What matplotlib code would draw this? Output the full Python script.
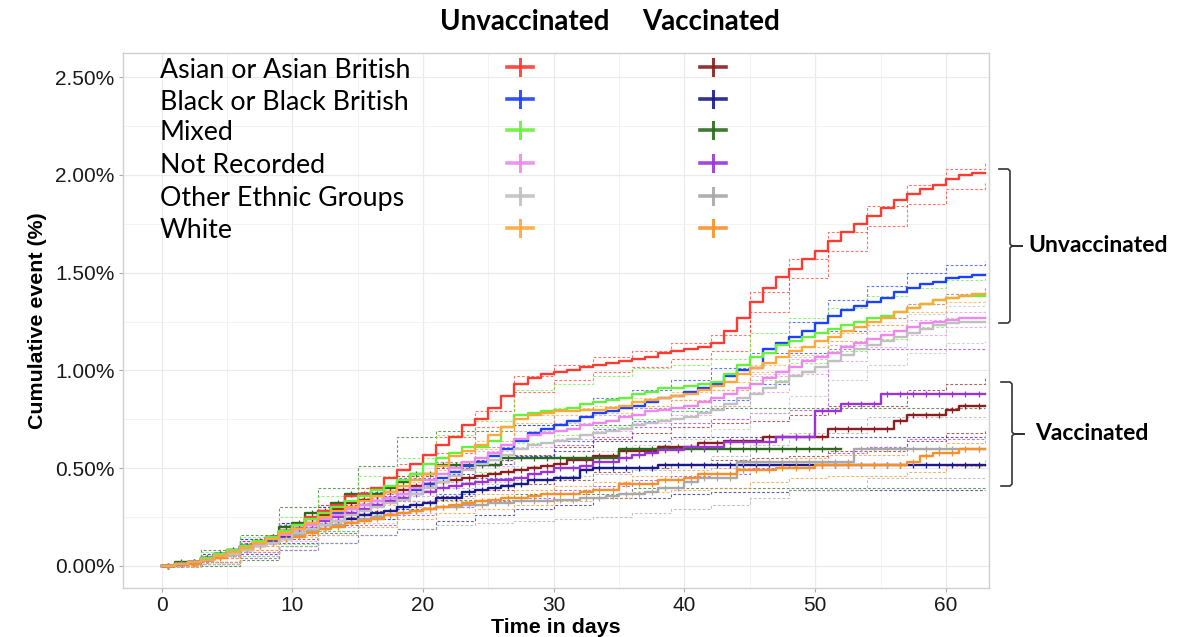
import numpy as np
import matplotlib.pyplot as plt
from matplotlib.lines import Line2D

plt.rcParams['font.family'] = ['Liberation Sans', 'DejaVu Sans']

groups = ['Asian or Asian British', 'Black or Black British', 'Mixed',
          'Not Recorded', 'Other Ethnic Groups', 'White']
unvacc_colors = ['#FF3A30', '#1E40FF', '#66F23A', '#EE88EE', '#C0C0C0', '#FFA83A']
vacc_colors = ['#8B1E1E', '#1A1A8C', '#2A6A1E', '#9A34D8', '#A8A8A8', '#F8902A']

days = list(range(64))
ci_days = list(range(0, 64, 3))

# cumulative event (%), daily, unvaccinated
u_asian = [0, 0.01, 0.02, 0.03, 0.05, 0.07, 0.10, 0.12, 0.15, 0.18, 0.21, 0.25, 0.28, 0.31, 0.36, 0.37,
           0.40, 0.45, 0.49, 0.52, 0.57, 0.62, 0.66, 0.72, 0.75, 0.81, 0.87, 0.93, 0.96, 0.98, 0.99, 1.00,
           1.02, 1.03, 1.04, 1.05, 1.06, 1.07, 1.09, 1.10, 1.11, 1.12, 1.14, 1.20, 1.27, 1.35, 1.42, 1.48,
           1.52, 1.57, 1.61, 1.66, 1.71, 1.75, 1.79, 1.83, 1.87, 1.90, 1.93, 1.95, 1.98, 2.00, 2.01, 2.01]
u_black = [0, 0.01, 0.02, 0.04, 0.06, 0.08, 0.10, 0.12, 0.14, 0.17, 0.19, 0.22, 0.24, 0.27, 0.29, 0.31,
           0.33, 0.35, 0.37, 0.39, 0.42, 0.45, 0.48, 0.51, 0.53, 0.56, 0.60, 0.64, 0.68, 0.70, 0.72, 0.74,
           0.76, 0.78, 0.79, 0.81, 0.82, 0.84, 0.86, 0.87, 0.89, 0.91, 0.93, 0.97, 1.00, 1.01, 1.11, 1.14,
           1.17, 1.20, 1.24, 1.28, 1.31, 1.33, 1.35, 1.37, 1.40, 1.42, 1.44, 1.45, 1.47, 1.48, 1.49, 1.49]
u_mixed = [0, 0.01, 0.02, 0.04, 0.06, 0.08, 0.10, 0.13, 0.15, 0.18, 0.21, 0.24, 0.27, 0.30, 0.33, 0.36,
           0.39, 0.41, 0.44, 0.47, 0.52, 0.55, 0.58, 0.61, 0.61, 0.64, 0.71, 0.77, 0.78, 0.79, 0.80, 0.81,
           0.83, 0.84, 0.85, 0.86, 0.88, 0.89, 0.91, 0.91, 0.92, 0.93, 0.94, 0.98, 1.03, 1.07, 1.09, 1.13,
           1.15, 1.17, 1.19, 1.21, 1.23, 1.25, 1.27, 1.28, 1.30, 1.32, 1.34, 1.36, 1.37, 1.38, 1.38, 1.38]
u_notrec = [0, 0.01, 0.02, 0.03, 0.05, 0.07, 0.09, 0.11, 0.14, 0.16, 0.19, 0.21, 0.24, 0.26, 0.29, 0.31,
            0.33, 0.35, 0.37, 0.40, 0.44, 0.47, 0.50, 0.53, 0.55, 0.58, 0.62, 0.65, 0.67, 0.68, 0.69, 0.70,
            0.72, 0.73, 0.74, 0.76, 0.77, 0.79, 0.80, 0.81, 0.82, 0.84, 0.86, 0.88, 0.91, 0.93, 0.96, 0.99,
            1.02, 1.05, 1.07, 1.09, 1.12, 1.14, 1.16, 1.18, 1.20, 1.22, 1.24, 1.25, 1.26, 1.27, 1.27, 1.27]
u_other = [0, 0.01, 0.02, 0.03, 0.05, 0.06, 0.08, 0.10, 0.12, 0.14, 0.17, 0.19, 0.21, 0.23, 0.26, 0.28,
           0.30, 0.32, 0.34, 0.37, 0.40, 0.43, 0.46, 0.49, 0.52, 0.54, 0.57, 0.60, 0.62, 0.63, 0.64, 0.65,
           0.67, 0.68, 0.69, 0.70, 0.72, 0.73, 0.74, 0.75, 0.76, 0.78, 0.80, 0.83, 0.86, 0.88, 0.91, 0.94,
           0.97, 0.99, 1.02, 1.05, 1.08, 1.11, 1.13, 1.15, 1.17, 1.19, 1.21, 1.23, 1.24, 1.25, 1.25, 1.25]
u_white = [0, 0.01, 0.02, 0.03, 0.05, 0.07, 0.09, 0.12, 0.14, 0.17, 0.19, 0.22, 0.25, 0.28, 0.30, 0.33,
           0.36, 0.38, 0.41, 0.44, 0.47, 0.51, 0.56, 0.59, 0.62, 0.67, 0.71, 0.75, 0.77, 0.78, 0.79, 0.79,
           0.80, 0.80, 0.81, 0.82, 0.84, 0.85, 0.86, 0.87, 0.88, 0.90, 0.92, 0.94, 0.98, 1.01, 1.04, 1.07,
           1.10, 1.12, 1.15, 1.17, 1.20, 1.22, 1.25, 1.27, 1.30, 1.32, 1.34, 1.36, 1.37, 1.38, 1.39, 1.39]

# vaccinated
v_asian = [0, 0.01, 0.02, 0.04, 0.06, 0.08, 0.10, 0.13, 0.15, 0.18, 0.21, 0.24, 0.26, 0.29, 0.32, 0.34,
           0.36, 0.38, 0.39, 0.41, 0.42, 0.43, 0.44, 0.45, 0.46, 0.47, 0.48, 0.49, 0.50, 0.51, 0.52, 0.54,
           0.54, 0.56, 0.56, 0.59, 0.59, 0.59, 0.61, 0.61, 0.61, 0.63, 0.63, 0.64, 0.64, 0.64, 0.66, 0.66,
           0.66, 0.66, 0.66, 0.70, 0.70, 0.70, 0.70, 0.70, 0.74, 0.77, 0.77, 0.77, 0.80, 0.82, 0.82, 0.82]
v_black = [0, 0.01, 0.02, 0.03, 0.05, 0.07, 0.09, 0.11, 0.13, 0.15, 0.17, 0.19, 0.21, 0.23, 0.24, 0.26,
           0.27, 0.28, 0.30, 0.31, 0.32, 0.35, 0.35, 0.38, 0.39, 0.40, 0.41, 0.42, 0.44, 0.44, 0.45, 0.45,
           0.49, 0.50, 0.50, 0.50, 0.50, 0.50, 0.515, 0.515, 0.515, 0.515, 0.515, 0.515, 0.515, 0.515, 0.515, 0.515,
           0.515, 0.515, 0.515, 0.515, 0.515, 0.515, 0.515, 0.515, 0.515, 0.515, 0.515, 0.515, 0.515, 0.515, 0.515, 0.515]
# mixed vaccinated follow-up ends around day 52
v_mixed = [0, 0.02, 0.02, 0.04, 0.06, 0.06, 0.10, 0.12, 0.15, 0.20, 0.22, 0.27, 0.28, 0.32, 0.37, 0.37,
           0.37, 0.40, 0.43, 0.47, 0.47, 0.515, 0.515, 0.515, 0.515, 0.515, 0.55, 0.55, 0.55, 0.55, 0.55, 0.55,
           0.55, 0.55, 0.55, 0.60, 0.60, 0.60, 0.60, 0.60, 0.60, 0.60, 0.60, 0.60, 0.60, 0.60, 0.60, 0.60,
           0.60, 0.60, 0.60, 0.60, 0.60]
v_notrec = [0, 0.01, 0.02, 0.03, 0.05, 0.07, 0.09, 0.12, 0.14, 0.16, 0.19, 0.21, 0.23, 0.25, 0.27, 0.29,
            0.31, 0.33, 0.35, 0.37, 0.38, 0.40, 0.41, 0.42, 0.43, 0.44, 0.44, 0.45, 0.47, 0.48, 0.50, 0.50,
            0.51, 0.53, 0.53, 0.55, 0.57, 0.58, 0.595, 0.595, 0.61, 0.61, 0.61, 0.635, 0.635, 0.635, 0.635, 0.66,
            0.66, 0.66, 0.79, 0.79, 0.83, 0.83, 0.83, 0.88, 0.88, 0.88, 0.88, 0.88, 0.88, 0.88, 0.88, 0.88]
v_other = [0, 0.01, 0.02, 0.03, 0.05, 0.06, 0.08, 0.10, 0.12, 0.14, 0.16, 0.18, 0.19, 0.21, 0.22, 0.24,
           0.25, 0.26, 0.27, 0.28, 0.29, 0.30, 0.30, 0.31, 0.31, 0.32, 0.32, 0.33, 0.33, 0.33, 0.34, 0.34,
           0.35, 0.35, 0.36, 0.37, 0.37, 0.38, 0.40, 0.40, 0.43, 0.45, 0.45, 0.45, 0.53, 0.53, 0.53, 0.53,
           0.53, 0.53, 0.53, 0.53, 0.53, 0.60, 0.60, 0.60, 0.60, 0.60, 0.60, 0.60, 0.60, 0.60, 0.60, 0.60]
v_white = [0, 0.01, 0.01, 0.03, 0.04, 0.06, 0.08, 0.10, 0.12, 0.14, 0.15, 0.17, 0.19, 0.20, 0.22, 0.23,
           0.24, 0.26, 0.27, 0.28, 0.29, 0.30, 0.31, 0.32, 0.33, 0.34, 0.35, 0.35, 0.36, 0.37, 0.37, 0.37,
           0.38, 0.39, 0.39, 0.42, 0.42, 0.42, 0.44, 0.44, 0.45, 0.47, 0.47, 0.47, 0.49, 0.49, 0.49, 0.50,
           0.50, 0.50, 0.515, 0.515, 0.515, 0.515, 0.515, 0.515, 0.515, 0.53, 0.56, 0.58, 0.58, 0.60, 0.60, 0.60]

# 95% confidence bands, every 3 days
u_asian_lo = [0, 0.02, 0.08, 0.16, 0.25, 0.34, 0.46, 0.58, 0.71, 0.89, 0.95, 0.99, 1.02, 1.06, 1.10, 1.30, 1.47, 1.61, 1.74, 1.85, 1.93, 1.96]
u_asian_hi = [0, 0.04, 0.12, 0.20, 0.31, 0.40, 0.52, 0.66, 0.79, 0.97, 1.03, 1.07, 1.10, 1.14, 1.18, 1.40, 1.57, 1.71, 1.84, 1.95, 2.03, 2.06]
u_black_lo = [0, 0.02, 0.06, 0.12, 0.18, 0.24, 0.29, 0.37, 0.45, 0.56, 0.64, 0.70, 0.74, 0.79, 0.85, 0.93, 1.09, 1.20, 1.27, 1.34, 1.39, 1.42]
u_black_hi = [0, 0.06, 0.14, 0.22, 0.30, 0.38, 0.45, 0.53, 0.61, 0.72, 0.80, 0.86, 0.90, 0.95, 1.01, 1.09, 1.25, 1.36, 1.43, 1.50, 1.54, 1.56]
u_mixed_lo = [0, 0.01, 0.05, 0.11, 0.18, 0.26, 0.33, 0.43, 0.48, 0.63, 0.67, 0.71, 0.75, 0.79, 0.82, 0.95, 1.04, 1.10, 1.16, 1.22, 1.27, 1.29]
u_mixed_hi = [0, 0.07, 0.15, 0.25, 0.36, 0.46, 0.55, 0.67, 0.74, 0.90, 0.93, 0.97, 1.01, 1.03, 1.06, 1.19, 1.27, 1.32, 1.38, 1.42, 1.46, 1.47]
u_notrec_lo = [0, 0.02, 0.07, 0.13, 0.20, 0.27, 0.33, 0.43, 0.51, 0.61, 0.65, 0.69, 0.73, 0.77, 0.82, 0.89, 0.98, 1.05, 1.12, 1.18, 1.22, 1.23]
u_notrec_hi = [0, 0.04, 0.11, 0.19, 0.28, 0.35, 0.41, 0.51, 0.59, 0.69, 0.73, 0.77, 0.81, 0.85, 0.90, 0.97, 1.06, 1.13, 1.20, 1.26, 1.30, 1.31]
u_other_lo = [0, 0.01, 0.05, 0.10, 0.16, 0.22, 0.27, 0.35, 0.43, 0.51, 0.55, 0.59, 0.62, 0.65, 0.70, 0.78, 0.87, 0.95, 1.03, 1.09, 1.14, 1.15]
u_other_hi = [0, 0.05, 0.11, 0.18, 0.26, 0.34, 0.41, 0.51, 0.61, 0.69, 0.73, 0.77, 0.82, 0.85, 0.90, 0.98, 1.07, 1.15, 1.23, 1.29, 1.33, 1.34]
u_white_lo = [0, 0.02, 0.08, 0.15, 0.23, 0.31, 0.39, 0.49, 0.60, 0.73, 0.77, 0.78, 0.82, 0.85, 0.90, 0.99, 1.08, 1.15, 1.23, 1.30, 1.35, 1.36]
u_white_hi = [0, 0.04, 0.10, 0.19, 0.27, 0.35, 0.43, 0.53, 0.64, 0.77, 0.81, 0.82, 0.86, 0.89, 0.94, 1.03, 1.12, 1.19, 1.27, 1.34, 1.39, 1.42]

v_asian_lo = [0, 0.02, 0.07, 0.14, 0.21, 0.28, 0.33, 0.36, 0.39, 0.42, 0.44, 0.48, 0.50, 0.52, 0.54, 0.55, 0.56, 0.59, 0.59, 0.64, 0.68, 0.69]
v_asian_hi = [0, 0.06, 0.13, 0.22, 0.31, 0.40, 0.46, 0.50, 0.54, 0.57, 0.61, 0.65, 0.68, 0.71, 0.73, 0.74, 0.77, 0.82, 0.82, 0.90, 0.93, 0.96]
v_black_lo = [0, 0.01, 0.04, 0.08, 0.12, 0.16, 0.19, 0.23, 0.26, 0.29, 0.31, 0.35, 0.35, 0.37, 0.38, 0.38, 0.39, 0.39, 0.39, 0.39, 0.39, 0.39]
v_black_hi = [0, 0.05, 0.14, 0.22, 0.30, 0.36, 0.41, 0.47, 0.52, 0.55, 0.59, 0.64, 0.64, 0.66, 0.66, 0.66, 0.66, 0.66, 0.66, 0.66, 0.66, 0.66]
v_mixed_lo = [0, 0.00, 0.03, 0.10, 0.17, 0.24, 0.29, 0.34, 0.34, 0.37, 0.37, 0.37, 0.40, 0.40, 0.40, 0.40, 0.40, 0.40, 0.40, 0.40, 0.40, 0.40]
v_mixed_hi = [0, 0.08, 0.16, 0.30, 0.40, 0.51, 0.66, 0.69, 0.69, 0.72, 0.72, 0.72, 0.81, 0.81, 0.81, 0.81, 0.81, 0.81, 0.81, 0.81, 0.81, 0.81]
v_notrec_lo = [0, 0.01, 0.05, 0.10, 0.16, 0.21, 0.26, 0.30, 0.33, 0.35, 0.39, 0.41, 0.44, 0.46, 0.47, 0.50, 0.52, 0.58, 0.61, 0.65, 0.65, 0.65]
v_notrec_hi = [0, 0.05, 0.13, 0.21, 0.30, 0.37, 0.44, 0.50, 0.54, 0.56, 0.62, 0.66, 0.71, 0.73, 0.75, 0.78, 0.80, 1.11, 1.11, 1.11, 1.11, 1.11]
v_other_lo = [0, 0.01, 0.04, 0.08, 0.12, 0.16, 0.19, 0.21, 0.22, 0.23, 0.24, 0.25, 0.27, 0.29, 0.31, 0.35, 0.39, 0.39, 0.45, 0.45, 0.45, 0.45]
v_other_hi = [0, 0.05, 0.12, 0.20, 0.26, 0.32, 0.36, 0.40, 0.42, 0.44, 0.46, 0.47, 0.49, 0.52, 0.56, 0.62, 0.68, 0.68, 0.76, 0.76, 0.76, 0.76]
v_white_lo = [0, 0.02, 0.06, 0.12, 0.16, 0.20, 0.24, 0.27, 0.29, 0.31, 0.33, 0.35, 0.38, 0.39, 0.40, 0.43, 0.45, 0.46, 0.46, 0.48, 0.51, 0.54]
v_white_hi = [0, 0.04, 0.10, 0.16, 0.22, 0.26, 0.30, 0.33, 0.37, 0.39, 0.41, 0.43, 0.46, 0.49, 0.50, 0.53, 0.55, 0.57, 0.57, 0.60, 0.63, 0.67]

unvacc = [u_asian, u_black, u_mixed, u_notrec, u_other, u_white]
vacc = [v_asian, v_black, v_mixed, v_notrec, v_other, v_white]
unvacc_ci = [(u_asian_lo, u_asian_hi), (u_black_lo, u_black_hi), (u_mixed_lo, u_mixed_hi),
             (u_notrec_lo, u_notrec_hi), (u_other_lo, u_other_hi), (u_white_lo, u_white_hi)]
vacc_ci = [(v_asian_lo, v_asian_hi), (v_black_lo, v_black_hi), (v_mixed_lo, v_mixed_hi),
           (v_notrec_lo, v_notrec_hi), (v_other_lo, v_other_hi), (v_white_lo, v_white_hi)]

W, H = 1178, 637
fig = plt.figure(figsize=(W / 100, H / 100), dpi=100)
ax = fig.add_axes([123 / W, 1 - 588 / H, (989 - 123) / W, (588 - 53) / H])

dash = (0, (2.5, 1.8))
# confidence bands
for ci, col in zip(vacc_ci + unvacc_ci, vacc_colors + unvacc_colors):
    for band in ci:
        ax.step(ci_days, band, where='post', color=col, lw=0.8, ls=dash, alpha=0.7)

# estimates
for vals, col in zip(vacc, vacc_colors):
    d = days[:len(vals)]
    ax.step(d, vals, where='post', color=col, lw=1.7)
    ax.plot(np.array(d[1:]) - 0.5, vals[:-1], ls='none', marker='|', ms=5, mew=0.9, color=col)
for vals, col in zip(unvacc, unvacc_colors):
    ax.step(days, vals, where='post', color=col, lw=1.7)

ax.set_xlim(-2.95, 63.3)
ax.set_ylim(-0.1125, 2.623)
ax.set_xticks(range(0, 61, 10))
ax.set_xticks(range(5, 61, 10), minor=True)
ax.set_yticks([0, 0.5, 1.0, 1.5, 2.0, 2.5])
ax.set_yticks([0.25, 0.75, 1.25, 1.75, 2.25], minor=True)
ax.set_yticklabels(['0.00%', '0.50%', '1.00%', '1.50%', '2.00%', '2.50%'])
ax.grid(True, which='major', color='#EBEBEB', lw=0.9)
ax.grid(True, which='minor', color='#F3F3F3', lw=0.7)
ax.set_axisbelow(True)
ax.tick_params(which='major', length=3, color='#AAAAAA', labelsize=15, labelcolor='#1A1A1A', pad=3)
ax.tick_params(which='minor', length=0)
for s in ax.spines.values():
    s.set_color('#D0D0D0')
    s.set_linewidth(1)

ax.set_xlabel('Time in days', fontsize=15.4, fontweight='bold', labelpad=2)
ax.set_ylabel('Cumulative event (%)', fontsize=15.4, fontweight='bold', labelpad=6)

# legend block
lab_font = ['Lato', 'DejaVu Sans']
fig.text(525 / W, 1 - 22 / H, 'Unvaccinated', family=lab_font, fontweight='bold', fontsize=20,
         ha='center', va='center')
fig.text(711 / W, 1 - 22 / H, 'Vaccinated', family=lab_font, fontweight='bold', fontsize=20,
         ha='center', va='center')
rows_y = [70, 102, 133, 166, 199, 231]
for g, yy, cu, cv in zip(groups, rows_y, unvacc_colors, vacc_colors):
    fig.text(160 / W, 1 - yy / H, g, family=lab_font, fontsize=19.3, ha='left', va='center')
    for cx, col in ((520, cu), (713, cv)):
        ty = 1 - (yy - 3) / H
        fig.add_artist(Line2D([(cx - 13) / W, (cx + 13) / W], [ty, ty], color=col, lw=2.6, alpha=0.9))
        fig.add_artist(Line2D([cx / W, cx / W], [ty - 8 / H, ty + 8 / H], color=col, lw=2.2, alpha=0.9))

# brackets on the right
def bracket(top, bottom, xv, label, tx):
    mid = (top + bottom) / 2
    xs = [xv - 11, xv - 2, xv, xv, xv + 2, xv + 12, xv + 2, xv, xv, xv - 2, xv - 11]
    ys = [top, top, top + 2, mid - 2, mid, mid, mid, mid + 2, bottom - 2, bottom, bottom]
    fig.add_artist(Line2D([x / W for x in xs], [1 - y / H for y in ys], color='#333333', lw=1.2))
    fig.text(tx / W, 1 - mid / H, label, family=lab_font, fontweight='bold', fontsize=16.5,
             ha='left', va='center')

bracket(169, 323, 1010, 'Unvaccinated', 1028)
bracket(382, 486, 1012, 'Vaccinated', 1035)

fig.savefig('out.png', dpi=100, facecolor='white')
